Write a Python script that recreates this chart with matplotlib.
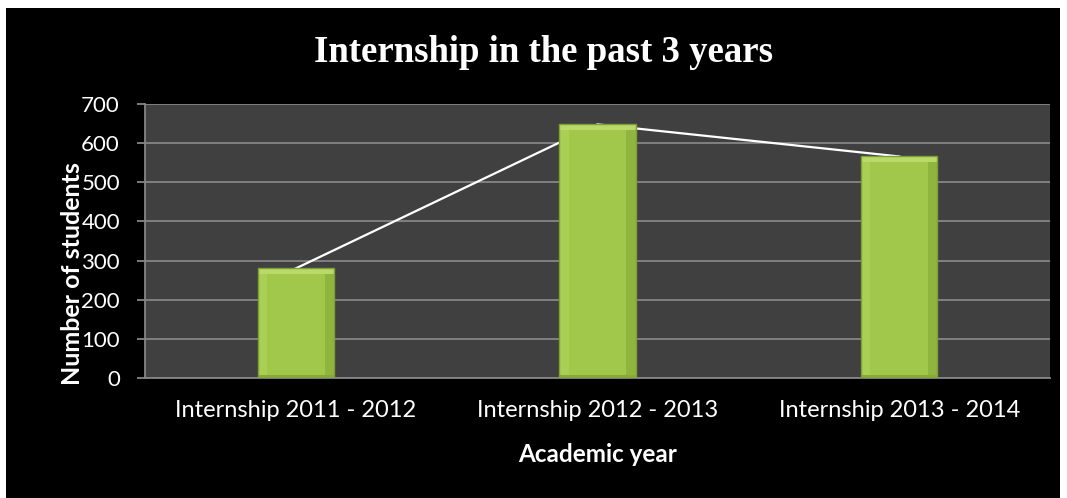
import matplotlib
matplotlib.use("Agg")
import matplotlib.pyplot as plt
from matplotlib.patches import Rectangle

categories = ["Internship 2011 - 2012", "Internship 2012 - 2013", "Internship 2013 - 2014"]
students = [280, 648, 566]
yticks = [0, 100, 200, 300, 400, 500, 600, 700]

W, H = 1067, 498
fig = plt.figure(figsize=(W / 100, H / 100), dpi=100, facecolor="white")
# black chart area
fig.patches.append(Rectangle((6 / W, 0), (1060 - 6) / W, (H - 8) / H,
                             transform=fig.transFigure, facecolor="black",
                             edgecolor="none", zorder=-10))

left, right, top, bottom = 145, 1050, 104, 378
ax = fig.add_axes([left / W, 1 - bottom / H, (right - left) / W, (bottom - top) / H])
ax.set_zorder(5)
ax.set_facecolor("#404040")

x = list(range(len(categories)))
bw = 0.252
ax.plot(x, students, color="white", lw=1.6, zorder=2)
ax.bar(x, students, width=bw, color="#a2c84b", edgecolor="none", zorder=3)
# bevel effect
for xi, v in zip(x, students):
    ax.bar(xi + bw * 0.44, v, width=bw * 0.12, color="#8fb53e", edgecolor="none", zorder=4)
    ax.bar(xi - bw * 0.44, v, width=bw * 0.12, color="#a9cf55", edgecolor="none", zorder=4)
    ax.bar(xi, 14, bottom=v - 14, width=bw, color="#b9d96b", edgecolor="none", zorder=5)
    ax.bar(xi, 8, bottom=0, width=bw, color="#86a938", edgecolor="none", zorder=5)
    ax.bar(xi, v, width=bw, color="none", edgecolor="#7f9f35", lw=1.0, zorder=6)

ax.set_xlim(-0.5, 2.5)
ax.set_ylim(0, 700)
ax.set_yticks(yticks)
ax.set_yticklabels([str(t) for t in yticks])
ax.yaxis.grid(True, color="#858585", lw=1.3, zorder=1)
ax.set_axisbelow(True)
ax.set_xticks(x)
ax.set_xticklabels(categories)

for s in ["top", "right"]:
    ax.spines[s].set_visible(False)
for s in ["left", "bottom"]:
    ax.spines[s].set_color("#858585")
    ax.spines[s].set_linewidth(1.3)

font = "Lato"
ax.tick_params(axis="y", colors="#858585", labelcolor="white", length=6, width=1.3,
               labelsize=16, pad=12)
ax.tick_params(axis="x", length=0, labelcolor="white", labelsize=17, pad=16)
for lbl in ax.get_xticklabels() + ax.get_yticklabels():
    lbl.set_fontfamily(font)

fig.text(72 / W, 1 - 274 / H, "Number of students", color="white", fontsize=18,
         fontweight="bold", fontfamily=font, rotation=90, ha="center", va="center")
ax.set_xlabel("Academic year", color="white", fontsize=17.5, fontweight="bold",
              fontfamily=font, labelpad=16)

fig.text(543 / W, 1 - 52 / H, "Internship in the past 3 years", color="white",
         fontsize=26.5, fontweight="bold", fontfamily="Liberation Serif",
         ha="center", va="center")

fig.savefig("out.png", dpi=100, facecolor="white")
